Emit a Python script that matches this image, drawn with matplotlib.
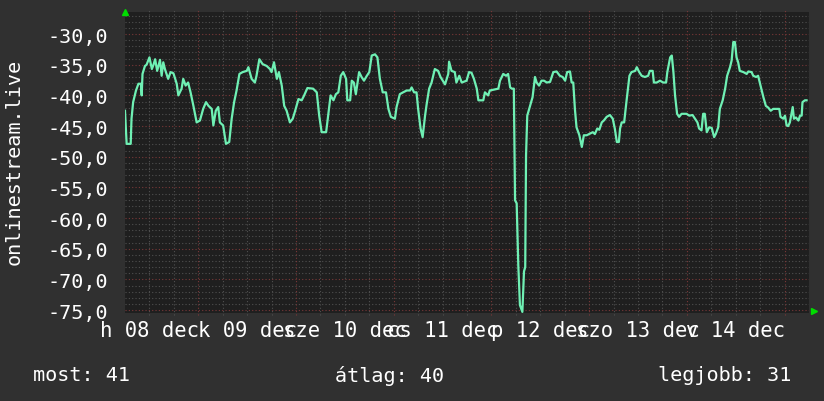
import matplotlib
matplotlib.use("Agg")
import matplotlib.pyplot as plt

# hours since 08 dec 00:00
hours = [6.0, 6.4, 7.4, 7.6, 8.0, 8.7, 9.3, 9.9, 10.1, 10.3, 10.9, 11.3, 12.0, 12.6, 13.0, 13.4,
         13.9, 14.6, 15.0, 15.4, 15.8, 16.6, 17.2, 17.9, 18.7, 19.1, 19.9, 20.3, 20.9, 21.5, 22.1,
         22.8, 23.6, 24.4, 25.2, 25.9, 26.5, 27.3, 27.7, 28.3, 28.9, 29.3, 30.1, 30.8, 31.6, 32.2,
         32.8, 33.4, 34.1, 34.9, 35.9, 36.3, 37.1, 37.9, 38.3, 39.0, 39.8, 40.8, 41.6, 42.0, 42.6,
         43.3, 43.8, 44.5, 45.1, 45.7, 46.5, 47.2, 47.8, 48.6, 49.4, 50.0, 50.8, 52.2, 53.1, 53.7,
         54.3, 55.4, 55.9, 56.5, 57.2, 57.8, 58.4, 59.0, 59.6, 60.3, 60.6, 61.3, 61.7, 62.2, 62.7,
         63.5, 64.1, 64.7, 65.4, 66.0, 66.6, 67.4, 68.0, 68.6, 69.3, 70.1, 70.7, 71.3, 72.3, 72.7,
         73.5, 74.3, 75.2, 76.0, 76.4, 77.0, 77.6, 78.0, 78.6, 79.1, 79.7, 80.1, 80.7, 81.3, 82.1,
         82.9, 83.5, 84.6, 85.4, 85.6, 86.2, 87.0, 87.4, 88.1, 88.7, 89.9, 90.5, 91.1, 91.7, 92.4,
         92.8, 94.0, 94.4, 95.2, 95.6, 97.7, 98.1, 98.9, 99.6, 100.1, 100.6, 101.0, 101.5, 101.8,
         102.2, 102.6, 103.0, 103.6, 104.0, 104.3, 104.5, 104.8, 105.5, 106.1, 106.7, 107.1, 107.7,
         108.3, 108.9, 109.6, 110.4, 111.2, 112.0, 112.8, 113.5, 114.1, 114.6, 115.3, 115.7, 116.1,
         116.5, 116.9, 117.6, 118.2, 118.7, 119.4, 120.0, 120.9, 121.4, 122.0, 122.5, 123.1, 123.6,
         124.3, 125.1, 125.8, 126.3, 126.8, 127.3, 127.6, 128.0, 128.6, 129.2, 129.9, 130.4, 131.3,
         131.7, 132.3, 132.9, 133.7, 134.5, 134.9, 135.6, 135.9, 136.6, 137.4, 138.2, 138.9, 139.2,
         139.9, 140.3, 140.7, 141.1, 141.6, 142.1, 142.7, 143.9, 144.6, 145.4, 146.0, 146.6, 147.0,
         147.6, 148.0, 148.4, 148.9, 149.5, 150.1, 150.7, 151.1, 151.7, 152.1, 152.8, 153.4, 153.9,
         154.6, 155.0, 155.4, 155.8, 156.2, 156.6, 157.0, 157.9, 158.7, 159.1, 159.9, 160.3, 161.0,
         161.5, 162.1, 162.8, 163.4, 164.0, 164.6, 165.2, 166.1, 166.7, 167.0, 167.7, 168.1, 168.5,
         168.9, 169.3, 170.0, 170.3, 170.8, 171.4, 171.8, 172.2, 172.4, 173.0, 173.4]
values = [-42.5, -47.9, -47.9, -43.8, -41.1, -39.2, -38.1, -38.1, -40.0, -36.5, -35.2, -35.0, -33.8,
          -35.7, -35.0, -34.1, -36.0, -34.2, -36.8, -34.6, -35.7, -37.3, -36.2, -36.4, -38.1, -40.0,
          -38.9, -37.3, -38.4, -37.9, -39.5, -41.7, -44.4, -44.1, -42.2, -41.1, -41.7, -42.2, -44.9,
          -42.5, -41.9, -44.4, -44.9, -47.9, -47.6, -43.8, -41.1, -39.2, -36.5, -36.2, -36.0, -35.4,
          -37.3, -37.9, -36.8, -34.1, -34.9, -35.2, -35.7, -36.2, -34.6, -37.3, -36.2, -38.4, -41.7,
          -42.5, -44.4, -43.8, -42.5, -40.6, -40.8, -40.0, -38.8, -38.9, -39.5, -43.3, -46.0, -46.0,
          -43.3, -40.0, -40.8, -39.8, -39.5, -36.8, -36.2, -37.3, -40.8, -40.8, -37.6, -37.9, -39.8,
          -36.2, -37.0, -37.6, -36.8, -36.2, -33.5, -33.3, -33.8, -37.3, -39.5, -39.5, -42.2, -43.5,
          -43.8, -41.9, -39.8, -39.5, -39.2, -39.2, -38.7, -39.5, -39.5, -42.2, -45.4, -46.8, -43.3,
          -41.4, -38.9, -37.9, -35.7, -36.0, -37.0, -38.2, -36.5, -34.5, -36.0, -36.2, -37.9, -36.8,
          -37.9, -37.6, -36.2, -36.3, -37.3, -38.9, -40.8, -40.8, -39.5, -40.0, -39.2, -38.9, -37.6,
          -36.5, -36.8, -36.5, -38.7, -38.9, -38.9, -57.1, -57.6, -67.7, -74.2, -75.3, -68.7, -68.0,
          -49.8, -43.3, -41.7, -40.3, -37.0, -37.9, -38.4, -37.6, -37.6, -37.9, -37.8, -36.2, -36.1,
          -36.8, -37.0, -37.6, -36.2, -36.1, -37.9, -37.9, -42.2, -45.2, -46.5, -48.4, -46.5, -46.5,
          -46.3, -46.0, -46.3, -45.4, -45.6, -44.4, -44.1, -43.5, -43.2, -43.8, -45.4, -47.6, -47.6,
          -45.4, -44.4, -44.4, -40.8, -36.8, -36.2, -36.0, -35.4, -36.2, -36.8, -37.0, -36.8, -36.0,
          -36.0, -37.9, -37.9, -37.6, -37.9, -37.9, -36.2, -33.8, -33.5, -36.2, -40.0, -43.0, -43.5,
          -43.0, -43.0, -43.3, -43.2, -43.8, -44.4, -45.4, -45.7, -43.0, -43.0, -46.0, -45.2, -45.3,
          -46.8, -46.3, -45.2, -42.2, -40.8, -38.9, -36.8, -35.4, -34.3, -31.3, -31.3, -33.8, -34.6,
          -36.0, -36.2, -36.5, -36.1, -36.2, -36.8, -37.0, -36.8, -38.4, -40.3, -41.7, -42.0, -42.5,
          -42.2, -42.2, -42.2, -43.5, -43.8, -43.3, -44.9, -45.0, -44.4, -41.9, -43.8, -43.6, -44.1,
          -43.3, -43.3, -41.1, -40.8, -40.8]

day_label_hours = [12, 36, 60, 84, 108, 132, 156]
day_labels = ["h 08 dec", "k 09 dec", "sze 10 dec", "cs 11 dec", "p 12 dec", "szo 13 dec", "v 14 dec"]
y_ticks = [-30, -35, -40, -45, -50, -55, -60, -65, -70, -75]
y_tick_labels = ["-30,0", "-35,0", "-40,0", "-45,0", "-50,0", "-55,0", "-60,0", "-65,0", "-70,0", "-75,0"]
y_title = "onlinestream.live"
legend_items = ["most: 41", "átlag: 40", "legjobb: 31"]

BG = "#303030"
CANVAS = "#1f1f1f"
MONO = "DejaVu Sans Mono"

fig = plt.figure(figsize=(8.24, 4.02), dpi=100, facecolor=BG)
ax = fig.add_axes([125 / 824, 1 - 313.5 / 402, 684 / 824, 300.5 / 402])
ax.set_facecolor(CANVAS)
ax.set_xlim(6, 174)
ax.set_ylim(-75.4, -26.4)

# grid like rrdtool: 1 unit / 6 h grey, 5 units / 24 h red
for v in range(-75, -26):
    red = v % 5 == 0
    ax.axhline(v, color="#7a3838" if red else "#505050", lw=0.8,
               ls=(0, (1, 2)), zorder=1)
for h in range(12, 174, 6):
    red = h % 24 == 0
    ax.axvline(h, ymin=-0.008, ymax=1.008, color="#7a3838" if red else "#505050", lw=0.8,
               ls=(0, (1, 2)), zorder=1, clip_on=False)

ax.plot(hours, values, color="#6ff0b4", lw=1.6, zorder=3)

for s in ax.spines.values():
    s.set_visible(False)

ax.set_yticks(y_ticks)
ax.set_yticklabels(y_tick_labels, family=MONO, fontsize=14.5, color="white")
ax.set_xticks(day_label_hours)
ax.set_xticklabels(day_labels, family=MONO, fontsize=14.8, color="white")
ax.tick_params(axis="both", length=0)
ax.tick_params(axis="y", pad=12)
ax.tick_params(axis="x", pad=5.5)

# green arrows at axis ends
ax.plot([0], [1.0], marker="^", color="#00dd00", ms=5, transform=ax.transAxes, clip_on=False)
ax.plot([1.0075], [0.005], marker=">", color="#00dd00", ms=5, transform=ax.transAxes, clip_on=False)

fig.text(14 / 824, 1 - 162 / 402, y_title, rotation=90, ha="center", va="center",
         family=MONO, fontsize=14.5, color="white")

fig.text(33 / 824, 1 - 376 / 402, legend_items[0], ha="left", va="center",
         family=MONO, fontsize=14.5, color="white")
fig.text(335 / 824, 1 - 376 / 402, legend_items[1], ha="left", va="center",
         family=MONO, fontsize=14.5, color="white")
fig.text(791 / 824, 1 - 376 / 402, legend_items[2], ha="right", va="center",
         family=MONO, fontsize=14.5, color="white")

fig.savefig("out.png", dpi=100, facecolor=BG)
